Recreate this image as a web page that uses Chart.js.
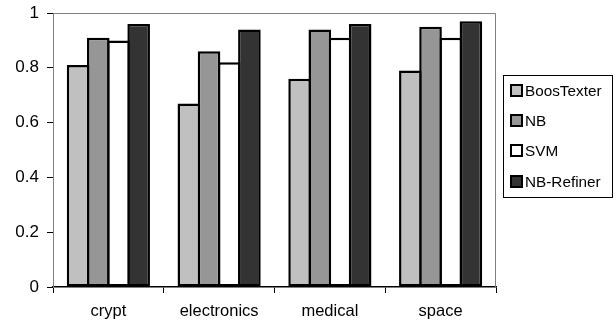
<!DOCTYPE html>
<html><head><meta charset="utf-8">
<script src="https://cdn.jsdelivr.net/npm/chart.js@4/dist/chart.umd.min.js"></script>
<style>
html,body{margin:0;padding:0;background:#fff;}
#wrap{position:relative;width:616px;height:327px;}
#legend{position:absolute;left:503px;top:75px;width:110px;height:123px;box-sizing:border-box;border:1px solid #000;font-family:"Liberation Sans",Arial,sans-serif;font-size:15.3px;color:#000;}
.li{position:absolute;left:6px;height:16px;line-height:16px;white-space:nowrap;}
.sw{display:inline-block;width:9px;height:9px;border:2px solid #000;vertical-align:-1px;margin-right:2px;}
</style></head><body>
<div id="wrap"><canvas id="c" width="616" height="327"></canvas><div id="legend"></div></div>
<script>
const categories = ["crypt", "electronics", "medical", "space"];
const seriesNames = ["BoosTexter", "NB", "SVM", "NB-Refiner"];
const boosTexter = [0.81, 0.67, 0.76, 0.79];
const nb = [0.91, 0.86, 0.94, 0.95];
const svm = [0.90, 0.82, 0.91, 0.91];
const nbRefiner = [0.96, 0.94, 0.96, 0.97];
const yTicks = [0, 0.2, 0.4, 0.6, 0.8, 1];
const colors = ["#C0C0C0", "#969696", "#FFFFFF", "#333333"];
const values = [boosTexter, nb, svm, nbRefiner];

const borderPlugin = {
  id: 'plotBorder',
  afterDatasetsDraw(chart) {
    const a = chart.chartArea, ctx = chart.ctx;
    ctx.save();
    ctx.strokeStyle = '#808080';
    ctx.lineWidth = 1;
    ctx.beginPath();
    ctx.moveTo(a.left, a.top + 0.5);
    ctx.lineTo(a.right - 0.5, a.top + 0.5);
    ctx.lineTo(a.right - 0.5, a.bottom);
    ctx.stroke();
    ctx.restore();
  }
};

new Chart(document.getElementById('c'), {
  type: 'bar',
  data: {
    labels: categories,
    datasets: seriesNames.map((n, i) => ({
      label: n, data: values[i], backgroundColor: colors[i],
      borderColor: '#000', borderWidth: 2.5, borderSkipped: false,
      categoryPercentage: 0.729, barPercentage: 1.12
    }))
  },
  options: {
    animation: false, responsive: false,
    layout: { padding: { top: 13, right: 120, left: 0, bottom: 0 } },
    plugins: { legend: { display: false }, tooltip: { enabled: false } },
    scales: {
      x: {
        grid: { offset: true, drawOnChartArea: false, tickLength: 6, color: '#000', tickWidth: 1 },
        border: { color: '#000', width: 1.5 },
        ticks: { color: '#000', font: { family: "'Liberation Sans', Arial, sans-serif", size: 16.5 }, padding: 9 },
        afterFit(s) { s.height = 40; s.paddingLeft = 0; s.paddingRight = 0; }
      },
      y: {
        min: 0, max: 1,
        afterBuildTicks(s) { s.ticks = yTicks.map(v => ({ value: v })); },
        grid: { drawOnChartArea: false, tickLength: 6, color: '#000' },
        border: { color: '#808080', width: 1 },
        ticks: { color: '#000', font: { family: "'Liberation Sans', Arial, sans-serif", size: 17 }, padding: 8,
          callback: v => String(v) },
        afterFit(s) { s.width = 53; s.paddingTop = 0; s.paddingBottom = 0; }
      }
    }
  },
  plugins: [borderPlugin]
});

const lg = document.getElementById('legend');
const ys = [7, 37, 67, 98];
seriesNames.forEach((n, i) => {
  const d = document.createElement('div');
  d.className = 'li'; d.style.top = ys[i] + 'px';
  d.innerHTML = '<span class="sw" style="background:' + colors[i] + '"></span>' + n;
  lg.appendChild(d);
});
</script>
</body></html>
